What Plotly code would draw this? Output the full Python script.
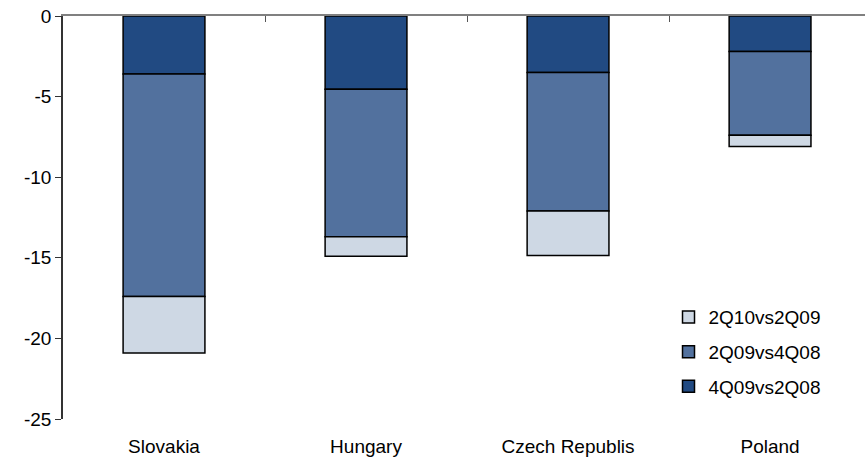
import plotly.graph_objects as go

# stacked contributions (percentage points)
countries = ["Slovakia", "Hungary", "Czech Republis", "Poland"]
q4_09_vs_2q08 = [-3.6, -4.55, -3.5, -2.2]
q2_09_vs_4q08 = [-13.8, -9.15, -8.6, -5.2]
q2_10_vs_2q09 = [-3.5, -1.2, -2.75, -0.7]
y_ticks = [0, -5, -10, -15, -20, -25]

# (name, values, colour, legend rank) - stacked from zero downwards
series = [
    ("4Q09vs2Q08", q4_09_vs_2q08, "#214A82", 3),
    ("2Q09vs4Q08", q2_09_vs_4q08, "#52719E", 2),
    ("2Q10vs2Q09", q2_10_vs_2q09, "#CED8E4", 1),
]

FONT = "Liberation Sans, Arial, sans-serif"
x_pos = list(range(len(countries)))

fig = go.Figure()
for name, vals, color, rank in series:
    fig.add_trace(
        go.Bar(
            x=x_pos,
            y=vals,
            name=name,
            legendgroup=name,
            legendrank=rank,
            width=0.405,
            marker={"color": color, "line": {"color": "#000000", "width": 1.5}},
        )
    )

# invisible trace so the top axis (line + boundary ticks) gets drawn
fig.add_trace(
    go.Scatter(x=[0], y=[0], xaxis="x2", mode="markers", marker={"opacity": 0}, showlegend=False, hoverinfo="skip")
)

fig.update_layout(
    width=865,
    height=462,
    margin={"l": 63, "r": 0, "t": 16, "b": 43},
    paper_bgcolor="white",
    plot_bgcolor="white",
    barmode="relative",
    font={"family": FONT, "size": 19, "color": "#000000"},
    showlegend=True,
    legend={
        "traceorder": "grouped",
        "tracegroupgap": 7,
        "x": 0.755,
        "y": 0.3,
        "xanchor": "left",
        "yanchor": "top",
        "bgcolor": "rgba(0,0,0,0)",
        "font": {"size": 19},
        "itemwidth": 30,
    },
    xaxis={
        "range": [-0.5, 3.47],
        "tickvals": x_pos,
        "ticktext": countries,
        "showline": False,
        "showgrid": False,
        "zeroline": False,
        "ticks": "",
        "ticklabelstandoff": 14,
    },
    xaxis2={
        "overlaying": "x",
        "side": "top",
        "range": [-0.5, 3.47],
        "tickvals": [0.5, 1.5, 2.5],
        "showticklabels": False,
        "ticks": "inside",
        "ticklen": 6,
        "tickcolor": "#555555",
        "showline": True,
        "linecolor": "#808080",
        "linewidth": 1.5,
        "showgrid": False,
        "zeroline": False,
    },
    yaxis={
        "range": [-25, 0],
        "tickvals": y_ticks,
        "ticktext": [str(v) for v in y_ticks],
        "showline": True,
        "linecolor": "#333333",
        "linewidth": 1.5,
        "ticks": "outside",
        "ticklen": 6,
        "tickcolor": "#333333",
        "showgrid": False,
        "zeroline": False,
    },
)

fig.write_html(
    "out.html",
    config={"displayModeBar": False},
    post_script="document.body.style.margin='0';",
)
